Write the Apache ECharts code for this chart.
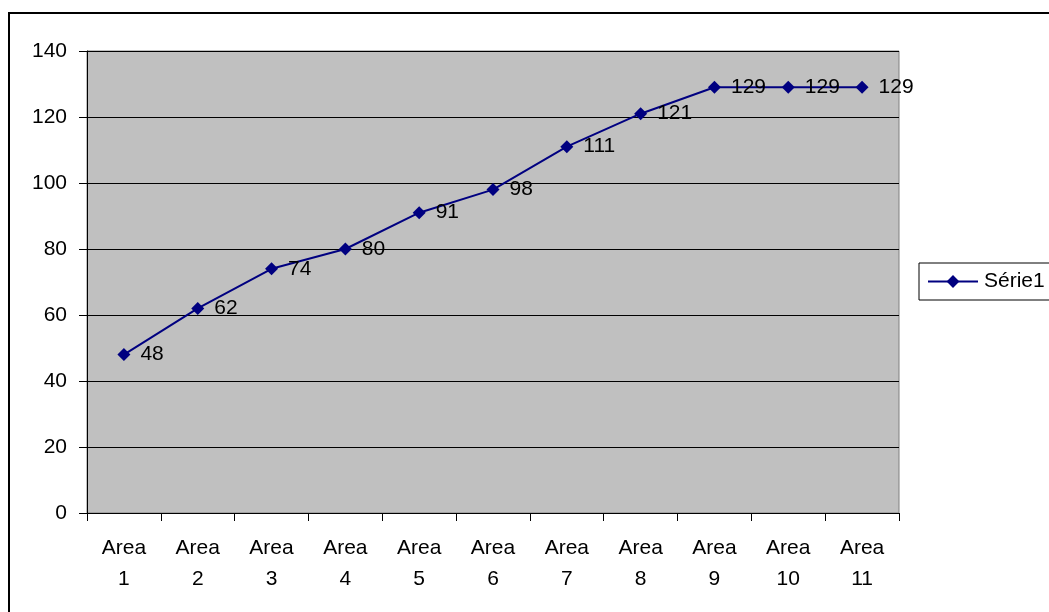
<!DOCTYPE html>
<html>
<head>
<meta charset="utf-8">
<script src="https://cdn.jsdelivr.net/npm/echarts@6/dist/echarts.min.js"></script>
<style>
  html, body { margin: 0; padding: 0; background: #fff; }
  #chart { width: 1049px; height: 612px; }
</style>
</head>
<body>
<div id="chart"></div>
<script>
// Category names and series values
const categories = ['Area 1', 'Area 2', 'Area 3', 'Area 4', 'Area 5', 'Area 6',
                    'Area 7', 'Area 8', 'Area 9', 'Area 10', 'Area 11'];
const serie1 = [48, 62, 74, 80, 91, 98, 111, 121, 129, 129, 129];
const seriesName = 'Série1';

const chart = echarts.init(document.getElementById('chart'), null, { renderer: 'canvas' });
const font = 'Arial, "Liberation Sans", sans-serif';
const fs = 21;

chart.setOption({
  backgroundColor: '#ffffff',
  animation: false,
  textStyle: { fontFamily: font },
  graphic: [{
    type: 'rect',
    shape: { x: 9, y: 13, width: 1100, height: 650 },
    style: { fill: 'none', stroke: '#000', lineWidth: 2 },
    silent: true,
    z: -1
  }],
  legend: {
    left: 919,
    top: 263,
    orient: 'vertical',
    padding: [8, 20, 8, 8],
    borderColor: '#000',
    borderWidth: 1,
    itemWidth: 50,
    itemHeight: 16,
    itemGap: 0,
    textStyle: { fontSize: fs, color: '#000', fontFamily: font, padding: [0, 0, 0, 1] },
    data: [{ name: seriesName }]
  },
  grid: {
    left: 87, top: 51, width: 812, height: 462,
    show: true,
    backgroundColor: '#C0C0C0',
    borderColor: '#808080',
    borderWidth: 1
  },
  xAxis: {
    type: 'category',
    data: categories,
    boundaryGap: true,
    axisLine: { lineStyle: { color: '#000', width: 1 } },
    axisTick: { show: true, length: 8, lineStyle: { color: '#000' } },
    axisLabel: {
      color: '#000', fontSize: fs, fontFamily: font, margin: 20,
      lineHeight: 31, interval: 0,
      formatter: v => v.replace(' ', '\n')
    },
    splitLine: { show: false }
  },
  yAxis: {
    type: 'value',
    min: 0, max: 140, interval: 20,
    axisLine: { show: true, lineStyle: { color: '#000', width: 1 } },
    axisTick: { show: true, length: 8, lineStyle: { color: '#000' } },
    axisLabel: { color: '#000', fontSize: fs, fontFamily: font, margin: 20 },
    splitLine: { show: true, lineStyle: { color: '#000', width: 1 } }
  },
  series: [{
    name: seriesName,
    type: 'line',
    data: serie1,
    symbol: 'diamond',
    symbolSize: 13,
    itemStyle: { color: '#000080' },
    lineStyle: { color: '#000080', width: 2 },
    label: {
      show: true,
      position: 'right',
      distance: 10,
      color: '#000',
      fontSize: fs,
      fontFamily: font
    }
  }]
});
</script>
</body>
</html>
